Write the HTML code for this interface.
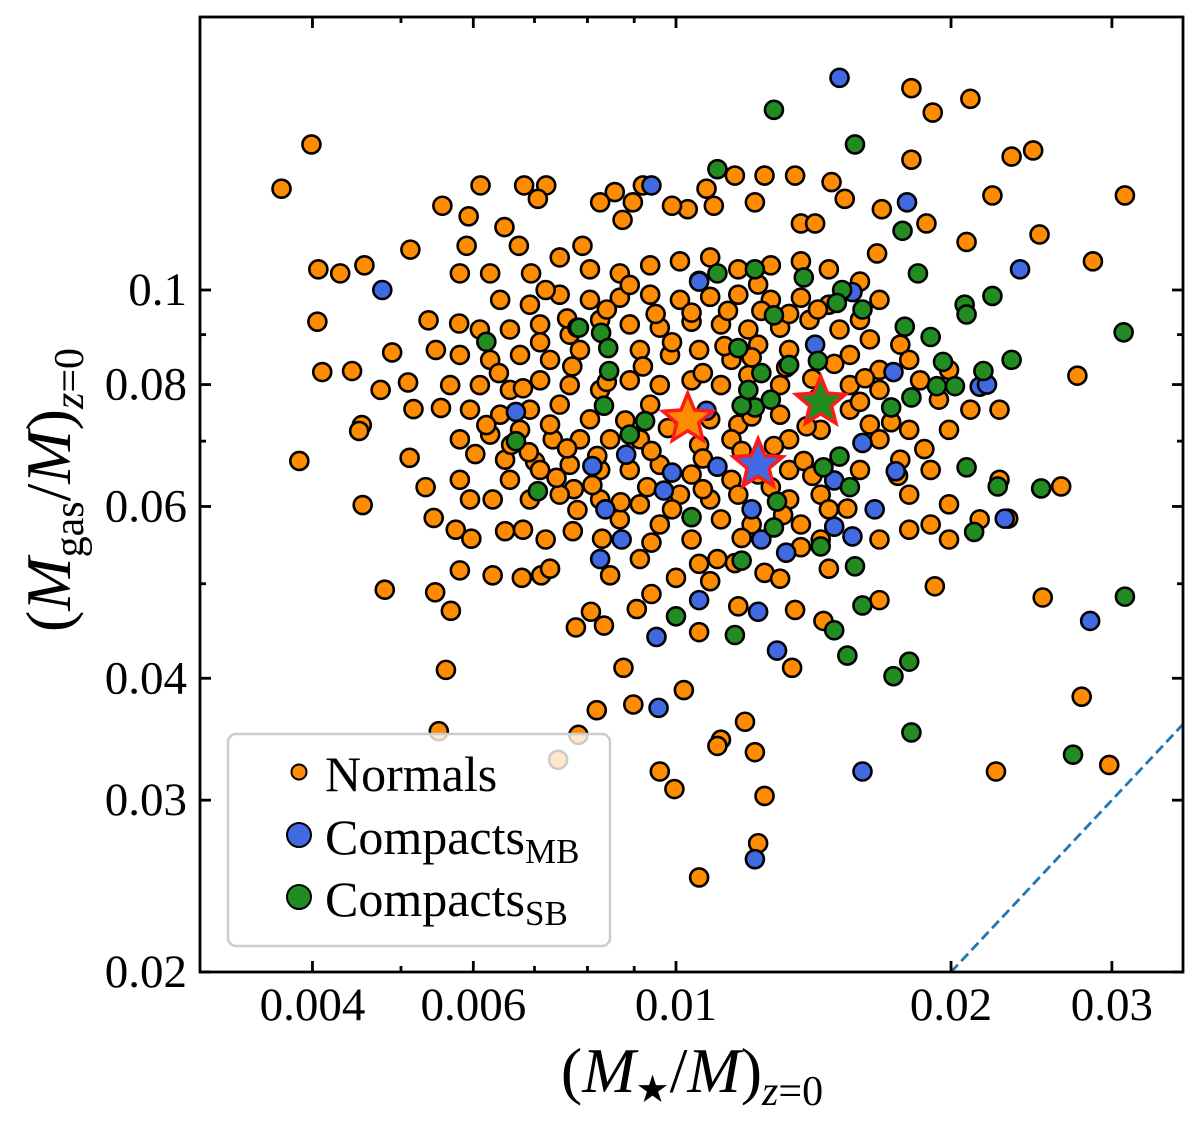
<!DOCTYPE html>
<html><head><meta charset="utf-8"><style>
html,body{margin:0;padding:0;background:#fff;}
svg{display:block;font-family:"Liberation Serif",serif;}
</style></head><body>
<svg id="chart" width="1200" height="1121" viewBox="0 0 1200 1121">
<g id="marks"></g>
<g id="axes"></g>
</svg>
<script>
const xMajorTicks = [0.004, 0.006, 0.01, 0.02, 0.03];
const xMajorLabels = ["0.004", "0.006", "0.01", "0.02", "0.03"];
const xMinorTicks = [0.005, 0.007, 0.008, 0.009];
const yMajorTicks = [0.1, 0.08, 0.06, 0.04, 0.03, 0.02];
const yMajorLabels = ["0.1", "0.08", "0.06", "0.04", "0.03", "0.02"];
const yMinorTicks = [0.05, 0.07, 0.09];
const refLine = [0.02, 0.04];
const normals = [
[.0037,.127],[.00399,.141],[.00406,.105],[.00429,.104],[.00405,.0928],[.0041,.0824],[.00442,.0826],[.00456,.106],[.00489,.0863],[.00475,.079],[.00453,.0727],[.0045,.0717],[.00387,.0668],[.00454,.0602],[.0048,.0493],[.00545,.049],[.0056,.0408],[.0055,.0353],[.00567,.0469],[.00782,.035],[.00743,.033],[.0096,.0321],[.00996,.0308],[.0106,.025],[.0123,.0271],[.0125,.0303],[.0112,.0346],[.0111,.0341],[.0122,.0336],[.0119,.0361],[.0102,.0389],[.00898,.0376],[.00819,.0371],[.00876,.041],[.0106,.0446],[.0117,.0474],[.0125,.0513],[.0135,.047],[.0134,.041],[.0145,.0458],
[.0181,.161],[.0191,.152],[.021,.157],[.0233,.137],[.0246,.139],[.0222,.125],[.031,.125],[.0208,.112],[.025,.114],[.0286,.107],[.0275,.0817],[.0264,.0629],[.0252,.0484],[.0278,.0383],[.0224,.0321],[.0298,.0326],[.0192,.0497],[.0231,.0583],[.0188,.117],[.0181,.136],[.0168,.121],[.0166,.109],[.0153,.124],[.0148,.129],[.0135,.131],[.0125,.131],[.0137,.117],[.0142,.117],[.0122,.123],[.0116,.131],[.011,.122],[.0108,.127],[.0103,.121],[.0099,.122],[.0092,.128],[.00897,.123],[.00874,.118],[.00857,.126],[.00826,.123],[.0079,.111],[.00721,.128],[.00682,.128],[.00706,.124],[.00611,.128],[.00593,.119],[.00649,.116],[.00555,.122],[.00512,.11],[.0059,.111],[.00673,.111],[.00694,.104],[.00626,.104],[.0058,.104],
[.00536,.0931],[.00579,.0924],[.00546,.0868],[.00509,.0804],[.00516,.0755],[.00553,.0757],[.00511,.0673],[.00532,.0628],[.00543,.0584],[.00574,.0568],[.0058,.0516],[.00597,.0556],[.0063,.051],[.00678,.0507],[.00712,.051],[.00728,.0518],[.00777,.0451],[.00807,.0468],[.00834,.0453],[.00906,.0471],[.0094,.0488],[.01,.0507],[.0109,.0503],[.0111,.053],[.0116,.0525],[.00847,.051],[.00771,.0566],[.0072,.0555],[.0068,.0568],[.0065,.0566],[.0063,.061],[.00603,.0679],[.0065,.067],[.00701,.0667],[.00773,.0625],[.00733,.0703],
[.00746,.108],[.00805,.105],[.00868,.104],[.00937,.106],[.0101,.107],[.0109,.108],[.0117,.105],[.0127,.106],[.0137,.107],[.0147,.105],[.0159,.102],[.0167,.0977],
[.00642,.0977],[.00692,.0966],[.00746,.0989],[.00805,.0977],[.00868,.0982],[.00937,.0989],[.0101,.0977],[.0109,.0984],[.0117,.0989],[.0127,.0977],[.0137,.0982],[.0147,.0966],[.0159,.0932],
[.0061,.0911],[.00658,.0911],[.0071,.0922],[.00765,.09],[.00826,.0932],[.0089,.0922],[.0096,.0915],[.0104,.0928],[.0112,.0922],[.012,.0911],[.013,.0915],[.014,.0932],[.0151,.0911],[.0163,.089],[.0176,.0879],
[.0058,.0858],[.00626,.0848],[.00675,.0858],[.00728,.0848],[.00785,.0868],[.00913,.0868],[.00985,.0858],[.0106,.0868],[.0115,.0848],[.0123,.0879],[.0133,.0868],[.0155,.0858],[.0167,.0828],[.018,.0848],
[.00566,.0799],[.0061,.0799],[.00658,.079],[.0071,.0808],[.00765,.0799],[.00826,.079],[.0089,.0808],[.0096,.0799],[.0104,.0808],[.0112,.0799],[.012,.0818],[.013,.0799],[.0155,.0799],[.0167,.079],[.0185,.0808],[.0199,.0828],
[.00595,.0754],[.00642,.0745],[.00692,.0754],[.00746,.0763],[.00805,.0737],[.00937,.0763],[.0109,.0737],[.0117,.0728],[.013,.0745],[.0155,.0754],[.0163,.0728],[.0194,.0772],[.021,.0754],[.0226,.0754],
[.0058,.0703],[.00626,.0711],[.00675,.0719],[.00728,.0728],[.00785,.0703],[.00847,.0703],[.00913,.0703],[.0106,.0694],[.0115,.0703],[.0133,.0703],[.0144,.0719],[.0167,.0703],[.018,.0719],[.0199,.0719],
[.0058,.0639],[.00658,.0639],[.0071,.0654],[.00765,.0662],[.00826,.0654],[.0089,.0654],[.0096,.0662],[.0104,.0647],[.0115,.0639],[.0123,.0647],[.0133,.0654],[.0144,.0617],[.0159,.0654],[.0176,.067],[.019,.0654],
[.00595,.061],[.00692,.061],[.00746,.0617],[.00826,.061],[.00913,.0603],[.0101,.0617],[.0109,.061],[.0117,.0617],[.0133,.061],[.0147,.0596],[.018,.0617],[.0199,.0603],[.0226,.0639],
[.00868,.0582],[.0096,.0575],[.0104,.0555],[.0112,.0582],[.0137,.0575],[.0144,.0555],[.0167,.0555],[.018,.0568],[.0199,.0555],[.0215,.0582],
[.00913,.053],[.0106,.0524],[.013,.0506],[.0147,.0518],[.0167,.0481],[.019,.0575],
[.0071,.0884],[.0077,.0835],[.0084,.0805],[.0092,.0835],[.0099,.0884],[.0107,.0822],[.0113,.0876],[.0121,.0853],[.0132,.0833],[.0141,.0811],[.0149,.084],[.0161,.0812],[.0088,.0735],[.0098,.0722],[.0121,.0742],[.0139,.0725],[.0069,.0682],[.0076,.0688],[.0082,.0676],[.0094,.0684],[.0107,.0672],[.0118,.0684],[.0128,.0692],[.0138,.0668],[.0074,.0642],[.0081,.0631],[.0093,.0628],[.0107,.0625],[.0127,.0628],[.0141,.0645],[.0078,.0595],[.0087,.0606],[.0099,.0596],[.0121,.0575],[.0131,.0588],[.0154,.0597],[.0083,.0556],[.0094,.0551],[.0118,.0557],[.0137,.0545],[.0076,.0935],[.0084,.0955],[.0095,.0945],[.0104,.0948],[.0114,.0952],[.0124,.0952],[.0133,.0945],[.0143,.0955],[.0072,.1],[.0089,.1012],[.0106,.1022],[.0123,.1013],[.0064,.0822],[.0068,.0793],[.0062,.0727],[.0066,.0694],[.0159,.0768],[.0172,.0732],[.0175,.0645],[.0187,.0687]
];
const compactsMB = [
[.0151,.165],[.0094,.128],[.0179,.123],[.0238,.105],[.0156,.0995],[.00477,.1],[.0078,.0915],[.0106,.102],[.0142,.0879],[.0173,.0824],[.0215,.0796],[.00668,.075],[.0108,.0752],[.00882,.0678],[.0081,.066],[.0099,.065],[.0111,.0659],[.0097,.0623],[.00837,.0596],[.0121,.0596],[.0165,.0596],[.0149,.0572],[.0156,.0559],[.0124,.0555],[.00872,.0555],[.00826,.053],[.0132,.0538],[.0106,.0481],[.0123,.0468],[.00952,.0441],[.0129,.0427],[.00957,.0373],[.016,.0321],[.0122,.0261],[.0284,.0458],[.0229,.0583],[.0174,.0652],[.016,.0697],[.0149,.0638],[.0143,.0775],[.0219,.08]
];
const compactsSB = [
[.0128,.153],[.0157,.141],[.0111,.133],[.0177,.115],[.0184,.104],[.0138,.103],[.0122,.105],[.0111,.104],[.0152,.1],[.016,.0955],[.0207,.0966],[.0222,.0986],[.0208,.0944],[.0178,.0917],[.0062,.0885],[.00783,.0915],[.00828,.0904],[.00843,.0872],[.00845,.0826],[.0117,.0872],[.0124,.0822],[.0133,.0838],[.0143,.0846],[.019,.0895],[.0196,.0844],[.0202,.0797],[.0193,.0797],[.0217,.0826],[.0233,.0848],[.0309,.0905],[.0122,.0758],[.0118,.0761],[.0127,.0772],[.012,.079],[.0128,.0942],[.015,.097],[.0172,.0758],[.0181,.0776],[.00668,.07],[.00834,.0761],[.0089,.0711],[.00925,.0734],[.00706,.0622],[.0104,.0585],[.0128,.0571],[.0118,.0528],[.0144,.0546],[.0157,.0521],[.0151,.0675],[.0145,.0658],[.0155,.0628],[.0208,.0658],[.0225,.0629],[.0251,.0626],[.0212,.0565],[.031,.0485],[.016,.0475],[.0116,.0443],[.0149,.0448],[.0154,.0422],[.01,.0463],[.0173,.0402],[.018,.0416],[.0181,.0352],[.0272,.0334],[.0129,.0607]
];
const medianNormals = [0.0103, 0.0737];
const medianMB = [0.0123, 0.0662];
const medianSB = [0.0144, 0.0767];

const L = 200, R = 1183, T = 17, B = 972;
function xs(v){ return 676 + 913.6 * Math.log10(v / 0.01); }
function ys(v){ return 290 - 975.7 * Math.log10(v / 0.1); }
const NS = "http://www.w3.org/2000/svg";
function mk(tag, attrs, parent){
  const e = document.createElementNS(NS, tag);
  for (const k in attrs) e.setAttribute(k, attrs[k]);
  parent.appendChild(e);
  return e;
}
const svg = document.getElementById('chart');
const marks = document.getElementById('marks');
const axes = document.getElementById('axes');

const clip = mk('clipPath', {id: 'pc'}, svg);
mk('rect', {x: L, y: T, width: R - L, height: B - T}, clip);
marks.setAttribute('clip-path', 'url(#pc)');

function drawSeries(arr, fill, name){
  const g = mk('g', {}, marks);
  
  
  arr.forEach(p => {
    const c = mk('circle', {cx: xs(p[0]), cy: ys(p[1]), r: 9, fill: fill, stroke: '#000', 'stroke-width': 2.6}, g);
    
    
  });
}
drawSeries(normals, '#ff8c00', 'normals');
drawSeries(compactsMB, '#4169e1', 'compacts-mb');
drawSeries(compactsSB, '#228b22', 'compacts-sb');

function star(p, fill, name){
  const cx = xs(p[0]), cy = ys(p[1]), ro = 26, ri = 11.5;
  let pts = [];
  for (let i = 0; i < 10; i++){
    const a = -Math.PI/2 + i * Math.PI/5, r = i % 2 ? ri : ro;
    pts.push((cx + r*Math.cos(a)).toFixed(1) + ',' + (cy + r*Math.sin(a)).toFixed(1));
  }
  const s = mk('polygon', {points: pts.join(' '), fill: fill, stroke: '#ff1a1a', 'stroke-width': 3.5, 'stroke-linejoin': 'miter'}, marks);
  
  
}
star(medianNormals, '#ff8c00', 'normals-median-star');
star(medianMB, '#4169e1', 'compacts-mb-median-star');
star(medianSB, '#228b22', 'compacts-sb-median-star');

const dl = mk('line', {x1: xs(refLine[0]), y1: ys(refLine[0]), x2: xs(refLine[1]), y2: ys(refLine[1]), stroke: '#1f77b4', 'stroke-width': 2.8, 'stroke-dasharray': '10,5'}, marks);



const fr = mk('rect', {x: L, y: T, width: R - L, height: B - T, fill: 'none', stroke: '#000', 'stroke-width': 2.8}, axes);



function tick(x1, y1, x2, y2){ mk('line', {x1, y1, x2, y2, stroke: '#000', 'stroke-width': 2.8}, axes); }
xMajorTicks.forEach((v, i) => {
  const x = xs(v);
  tick(x, B, x, B - 11); tick(x, T, x, T + 11);
  const t = mk('text', {x: x, y: 1020, 'font-size': 47, 'text-anchor': 'middle', fill: '#000'}, axes);
  t.textContent = xMajorLabels[i];
  
  
});
xMinorTicks.forEach(v => { const x = xs(v); tick(x, B, x, B - 6); tick(x, T, x, T + 6); });
yMajorTicks.forEach((v, i) => {
  const y = ys(v);
  tick(L, y, L + 11, y); tick(R, y, R - 11, y);
  const t = mk('text', {x: 187, y: y + 15, 'font-size': 47, 'text-anchor': 'end', fill: '#000'}, axes);
  t.textContent = yMajorLabels[i];
  
  
});
yMinorTicks.forEach(v => { const y = ys(v); tick(L, y, L + 6, y); tick(R, y, R - 6, y); });
</script>
<svg width="1200" height="1121" style="position:absolute;left:0;top:0;font-family:'Liberation Serif',serif;">
  <g>
    <rect x="228" y="734" width="382" height="212" rx="8" fill="#fff" fill-opacity="0.8" stroke="#cccccc" stroke-width="2.5"/>
    <circle cx="299" cy="772" r="7.5" fill="#ff8c00" stroke="#000" stroke-width="2"/>
    <text x="325" y="791" font-size="50">Normals</text>
    <circle cx="299" cy="835" r="12" fill="#4169e1" stroke="#000" stroke-width="2"/>
    <text x="325" y="854" font-size="50">Compacts<tspan font-size="35" dy="9">MB</tspan></text>
    <circle cx="299" cy="897" r="12" fill="#228b22" stroke="#000" stroke-width="2"/>
    <text x="325" y="916" font-size="50">Compacts<tspan font-size="35" dy="9">SB</tspan></text>
  </g>
  <text x="692" y="1092" font-size="64" text-anchor="middle">(<tspan font-style="italic">M</tspan><tspan font-size="38" dy="10">★</tspan><tspan dy="-10">/</tspan><tspan font-style="italic">M</tspan>)<tspan font-size="42" dy="13" font-style="italic">z</tspan><tspan font-size="42">=0</tspan></text>
  <text transform="translate(70,490) rotate(-90)" font-size="64" text-anchor="middle">(<tspan font-style="italic">M</tspan><tspan font-size="42" dy="13">gas</tspan><tspan dy="-13">/</tspan><tspan font-style="italic">M</tspan>)<tspan font-size="42" dy="13" font-style="italic">z</tspan><tspan font-size="42">=0</tspan></text>
</svg>
</body></html>
